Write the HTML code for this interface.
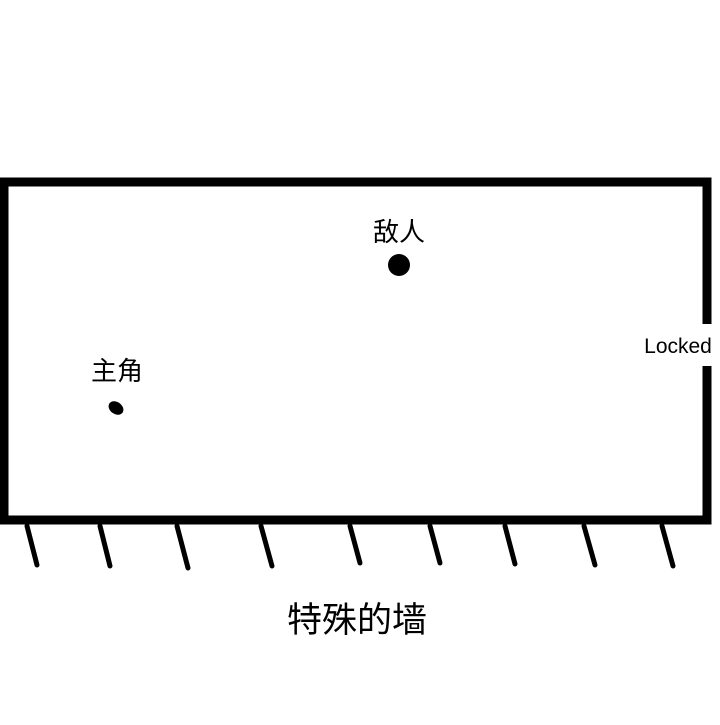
<!DOCTYPE html>
<html><head><meta charset="utf-8"><style>
body{margin:0;background:#fff;width:720px;height:720px;overflow:hidden}
text{font-family:"Liberation Sans","Noto Sans CJK SC",sans-serif;fill:#000}
</style></head><body>
<svg width="720" height="720" viewBox="0 0 720 720">
<g stroke="#000" stroke-width="9" fill="none" stroke-linecap="butt">
<path d="M707 324 V182 H4 V520 H707 V366"/>
</g>
<g stroke="#000" stroke-width="5" stroke-linecap="round">
<line x1="27" y1="526" x2="37" y2="565"/>
<line x1="100" y1="526" x2="110" y2="566"/>
<line x1="177" y1="526" x2="188" y2="568"/>
<line x1="261" y1="526" x2="272" y2="566"/>
<line x1="350" y1="526" x2="360" y2="563"/>
<line x1="430" y1="526" x2="440" y2="563"/>
<line x1="505" y1="526" x2="515" y2="564"/>
<line x1="584" y1="526" x2="595" y2="565"/>
<line x1="662" y1="526" x2="673" y2="566"/>
</g>
<circle cx="399" cy="265" r="11" fill="#000"/>
<ellipse cx="116" cy="408" rx="8" ry="6" transform="rotate(35 116 408)" fill="#000"/>
<text x="399" y="241" font-size="26" text-anchor="middle">敌人</text>
<text x="117" y="380" font-size="26" text-anchor="middle">主角</text>
<text x="678" y="353" font-size="21" text-anchor="middle">Locked</text>
<text x="357" y="632" font-size="35" text-anchor="middle">特殊的墙</text>
</svg>
</body></html>
